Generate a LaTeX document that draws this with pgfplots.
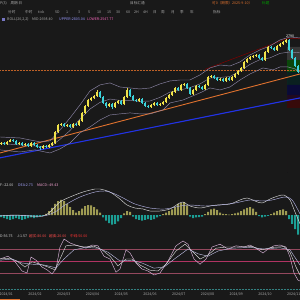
\documentclass[border=0pt]{standalone}
\usepackage{pgfplots}
\usepackage{pgfplotstable}
\pgfplotsset{compat=1.18}
\usepackage{fontspec}
\setmainfont{Noto Sans CJK SC}
\definecolor{bg}{HTML}{191919}
\definecolor{upc}{HTML}{F0E24A}
\definecolor{dnc}{HTML}{3CD2DA}
\definecolor{boll}{HTML}{8C85A6}
\definecolor{ortl}{HTML}{E0722E}
\definecolor{bltl}{HTML}{2233E6}
\definecolor{posh}{HTML}{9E9A52}
\definecolor{negh}{HTML}{1B9E94}
\definecolor{kdjl}{HTML}{94485E}
\definecolor{kdjm}{HTML}{B03362}
\definecolor{txtg}{HTML}{A8A8A8}
\newcommand{\tf}{\fontsize{3.6}{4.5}\selectfont}

\pgfplotstableread{
x o c h l
1 2047 2055 2062 2040
7 2047 2062 2068 2042
10 2062 2076 2083 2058
19 2047 2055 2061 2041
25 2040 2047 2053 2034
31 2033 2055 2060 2028
43 2019 2033 2040 2012
49 2026 2040 2046 2020
52 2040 2055 2062 2035
55 2055 2133 2140 2050
58 2133 2183 2190 2128
61 2183 2190 2200 2176
67 2176 2183 2192 2170
73 2169 2190 2197 2163
79 2183 2212 2220 2178
82 2212 2269 2275 2206
85 2269 2319 2326 2262
88 2319 2362 2368 2312
91 2362 2376 2384 2352
94 2376 2390 2398 2368
97 2390 2419 2432 2384
109 2319 2333 2342 2310
115 2312 2340 2348 2305
118 2340 2355 2362 2334
124 2333 2383 2390 2328
127 2383 2433 2445 2376
139 2355 2369 2377 2348
151 2312 2326 2333 2305
154 2326 2340 2347 2319
160 2326 2333 2340 2319
163 2333 2347 2354 2327
166 2347 2376 2383 2340
169 2376 2397 2404 2369
172 2397 2419 2426 2390
175 2419 2447 2455 2412
181 2433 2469 2476 2426
184 2469 2476 2484 2462
193 2404 2433 2440 2397
196 2433 2462 2469 2426
205 2440 2469 2476 2433
208 2469 2526 2533 2462
211 2526 2533 2541 2519
220 2504 2512 2519 2497
226 2497 2519 2526 2490
232 2504 2526 2533 2497
235 2526 2547 2554 2519
238 2547 2569 2576 2540
241 2569 2590 2598 2562
244 2590 2633 2640 2583
247 2633 2654 2662 2626
250 2654 2669 2676 2647
253 2669 2676 2684 2661
256 2676 2683 2690 2669
265 2647 2704 2712 2640
268 2704 2740 2748 2697
277 2719 2747 2754 2712
280 2747 2761 2768 2740
283 2761 2776 2783 2754
286 2776 2790 2797 2769
}\upT

\pgfplotstableread{
x o c h l
4 2055 2047 2062 2040
13 2076 2069 2083 2062
16 2069 2047 2076 2040
22 2055 2040 2062 2033
28 2047 2033 2054 2026
34 2055 2040 2062 2033
37 2040 2026 2047 2019
40 2026 2019 2033 2005
46 2033 2026 2040 2019
64 2190 2176 2197 2169
70 2183 2169 2190 2162
76 2190 2183 2198 2176
100 2419 2383 2426 2376
103 2383 2340 2390 2333
106 2340 2319 2347 2304
112 2333 2312 2340 2300
121 2355 2333 2362 2326
130 2433 2390 2440 2383
133 2390 2362 2397 2355
136 2362 2355 2369 2347
142 2369 2340 2376 2333
145 2340 2319 2347 2312
148 2319 2312 2326 2305
157 2340 2326 2347 2319
178 2447 2433 2455 2426
187 2476 2447 2483 2440
190 2447 2404 2454 2397
199 2462 2454 2469 2447
202 2454 2440 2461 2433
214 2533 2519 2540 2512
217 2519 2504 2526 2497
223 2512 2497 2519 2490
229 2519 2504 2526 2497
259 2683 2662 2690 2655
262 2662 2647 2669 2640
271 2740 2733 2748 2726
274 2733 2719 2740 2712
289 2790 2719 2797 2712
292 2719 2662 2726 2655
295 2662 2604 2669 2597
298 2604 2562 2612 2554
}\dnT

\begin{document}
\begin{tikzpicture}
\fill[bg] (0pt,0pt) rectangle (300pt,-300pt);

% ---------- toolbar ----------
\node[anchor=west,inner sep=0,font=\tf,text=txtg] at (0pt,-3pt) {P(3)\quad 周期:日};
\node[anchor=west,inner sep=0,font=\tf,text=ortl] at (212pt,-3pt) {可0（期限）2025-9-10）};
\node[anchor=west,inner sep=0,font=\tf,text=green!60!black] at (262pt,-3pt) {标题};
\node[anchor=west,inner sep=0,font=\tf,text=txtg] at (130pt,-3pt) {目标汇通};
\foreach \t/\xx in {分时/8,中时/25,tick/38,5D/55,1/66,3/78,5/88,10/97,15/107,30/116,60/126,2H/134,4H/143,日/153,周/161,月/171,季/180,年/190,指标/213}
  \node[anchor=west,inner sep=0,font=\tf,text=txtg] at (\xx pt,-12pt) {\t};

% ---------- BOLL header ----------
\fill[txtg!70!blue] (2pt,-17.5pt) rectangle (5pt,-20.5pt);
\node[anchor=west,inner sep=0,font=\tf,text=txtg] at (7pt,-19pt) {BOLL(20,2,2)};
\node[anchor=west,inner sep=0,font=\tf,text=txtg] at (32pt,-19pt) {MID:2698.40};
\node[anchor=west,inner sep=0,font=\tf,text=blue!40!white] at (59pt,-19pt) {UPPER:2803.04};
\node[anchor=west,inner sep=0,font=\tf,text=magenta!60!white] at (87pt,-19pt) {LOWER:2547.77};

% ---------- main price axis ----------
\begin{axis}[at={(0pt,-22pt)},anchor=north west,scale only axis,width=300pt,height=150pt,
  xmin=0,xmax=300,ymin=1847,ymax=2918,axis lines=none,clip=true]
\addplot[fill=gray!60!black,fill opacity=0.6,draw=none] coordinates {(287,2740) (300,2740) (300,2647) (287,2647)} \closedcycle;
\addplot[fill=green!40!black,fill opacity=0.6,draw=none] coordinates {(287,2647) (300,2647) (300,2561) (287,2561)} \closedcycle;
\addplot[fill=teal!30!black,fill opacity=0.6,draw=none] coordinates {(287,2561) (300,2561) (300,2469) (287,2469)} \closedcycle;
\addplot[fill=blue!30!black,fill opacity=0.6,draw=none] coordinates {(287,2469) (300,2469) (300,2397) (287,2397)} \closedcycle;
\addplot[fill=violet!30!black,fill opacity=0.6,draw=none] coordinates {(287,2397) (300,2397) (300,2361) (287,2361)} \closedcycle;
\addplot[fill=red!30!black,fill opacity=0.6,draw=none] coordinates {(287,2361) (300,2361) (300,2304) (287,2304)} \closedcycle;
\addplot[ortl!85!black,densely dotted,line width=0.5pt] coordinates {(0,2572) (300,2572)};
\addplot[bltl,line width=1.1pt] coordinates {(0,1948) (300,2376)};
\addplot[ortl,line width=0.9pt] coordinates {(0,1983) (300,2547)};
\addplot[red!50!black,line width=0.5pt] coordinates {(205,2580) (287,2800) (300,2800)};
\addplot[boll,line width=0.45pt] coordinates {(0,2097) (20,2090) (40,2062) (50,2069) (60,2147) (70,2233) (80,2326) (90,2426) (100,2469) (110,2483) (120,2454) (130,2447) (140,2440) (150,2447) (160,2476) (170,2497) (180,2504) (190,2504) (200,2540) (210,2590) (220,2611) (230,2604) (240,2633) (250,2683) (260,2719) (270,2747) (280,2790) (290,2811) (300,2804)};
\addplot[boll!85!gray,line width=0.45pt] coordinates {(0,2051) (20,2040) (40,2030) (50,2026) (60,2080) (70,2143) (80,2226) (90,2297) (100,2344) (110,2368) (120,2358) (130,2358) (140,2351) (150,2354) (160,2380) (170,2418) (180,2432) (190,2450) (200,2476) (210,2518) (220,2522) (230,2529) (240,2568) (250,2615) (260,2650) (270,2662) (280,2694) (290,2704) (300,2698)};
\addplot[boll,line width=0.45pt] coordinates {(0,2005) (20,1990) (35,2005) (45,1990) (50,1983) (60,2012) (70,2054) (80,2126) (90,2169) (100,2219) (110,2254) (120,2262) (130,2269) (140,2262) (150,2262) (163,2290) (170,2340) (183,2361) (200,2412) (210,2447) (220,2433) (230,2454) (240,2504) (250,2547) (263,2590) (273,2576) (280,2597) (288,2597) (295,2583) (300,2561)};
\addplot[draw=none,error bars/.cd,y dir=plus,y explicit,error mark=none,error bar style={draw=upc,line width=0.4pt}]
  table[x=x,y=l,y error plus expr=\thisrow{h}-\thisrow{l}] {\upT};
\addplot[draw=none,error bars/.cd,y dir=plus,y explicit,error mark=none,error bar style={draw=upc,line width=1.5pt}]
  table[x=x,y=o,y error plus expr=\thisrow{c}-\thisrow{o}] {\upT};
\addplot[draw=none,error bars/.cd,y dir=plus,y explicit,error mark=none,error bar style={draw=dnc,line width=0.4pt}]
  table[x=x,y=l,y error plus expr=\thisrow{h}-\thisrow{l}] {\dnT};
\addplot[draw=none,error bars/.cd,y dir=plus,y explicit,error mark=none,error bar style={draw=dnc,line width=1.5pt}]
  table[x=x,y=c,y error plus expr=\thisrow{o}-\thisrow{c}] {\dnT};
\node[anchor=west,inner sep=0,font=\tf,text=white] at (axis cs:286,2820) {2790};
\end{axis}

% ---------- MACD ----------
\node[anchor=west,inner sep=0,font=\tf,text=white!85!black] at (0pt,-185pt) {F:-22.00};
\node[anchor=west,inner sep=0,font=\tf,text=blue!35!white] at (18pt,-185pt) {DEA:2.73};
\node[anchor=west,inner sep=0,font=\tf,text=magenta!35!white] at (37pt,-185pt) {MACD:-49.43};
\begin{axis}[at={(0pt,-178pt)},anchor=north west,scale only axis,width=300pt,height=58pt,
  xmin=0,xmax=300,ymin=-52.5,ymax=92.5,axis lines=none,clip=true]
\addplot[ybar,bar width=2pt,bar shift=0pt,fill=posh,draw=none] coordinates {(46,3) (49,10) (52,18) (55,28) (58,35) (61,38) (64,35) (67,28) (70,20) (73,12) (76,6) (79,10) (82,16) (85,22) (88,25) (91,24) (94,20) (97,14) (100,6) (124,4) (127,10) (130,8) (163,2) (166,6) (169,10) (172,14) (175,20) (178,28) (181,30) (184,32) (187,24) (205,2) (208,8) (211,14) (214,16) (217,12) (220,6) (223,3) (226,2) (229,1) (232,2) (235,4) (238,6) (241,10) (244,14) (247,18) (250,20) (253,16) (256,8) (271,2) (274,6) (277,10) (280,12) (283,14) (286,10)};
\addplot[ybar,bar width=2pt,bar shift=0pt,fill=negh,draw=none] coordinates {(1,-5) (4,-8) (7,-10) (10,-12) (13,-10) (16,-8) (19,-10) (22,-12) (25,-10) (28,-8) (31,-6) (34,-8) (37,-6) (40,-4) (43,-2) (103,-6) (106,-14) (109,-20) (112,-24) (115,-22) (118,-16) (121,-8) (133,-4) (136,-10) (139,-12) (142,-14) (145,-12) (148,-10) (151,-12) (154,-10) (157,-6) (160,-3) (190,-4) (193,-8) (196,-6) (199,-5) (202,-4) (259,-3) (262,-6) (265,-4) (268,-2) (289,-10) (292,-22) (295,-35) (298,-49)};
\addplot[white!85!black,line width=0.45pt,smooth] coordinates {(0,-2.5) (15,0) (30,-2.5) (43,-2.5) (50,7.5) (60,32.5) (70,45) (83,57.5) (95,65) (100,65) (110,57.5) (120,40) (127,25) (135,17.5) (143,15) (150,10) (160,10) (170,15) (178,27.5) (183,32.5) (190,22.5) (200,17.5) (210,22.5) (217,25) (230,27.5) (240,37.5) (247,42.5) (255,35) (262,30) (270,40) (278,47.5) (284,50) (290,37.5) (295,7.5) (300,-22)};
\addplot[blue!25!white!75!gray,line width=0.45pt,smooth] coordinates {(0,-1.25) (20,-1.25) (43,-2.5) (55,7.5) (65,25) (80,45) (95,57.5) (105,60) (115,52.5) (125,40) (135,27.5) (150,17.5) (165,15) (180,22.5) (190,25) (205,22.5) (220,25) (235,30) (250,37.5) (262,35) (272,37.5) (285,45) (292,38) (300,3)};
\end{axis}

% ---------- KDJ ----------
\node[anchor=west,inner sep=0,font=\tf,text=white!85!black] at (0pt,-236pt) {D:56.75};
\node[anchor=west,inner sep=0,font=\tf,text=white!85!black] at (17pt,-236pt) {J:1.57};
\node[anchor=west,inner sep=0,font=\tf,text=red!70!white] at (29pt,-236pt) {超买:80.00};
\node[anchor=west,inner sep=0,font=\tf,text=red!70!white] at (49pt,-236pt) {超卖:20.00};
\node[anchor=west,inner sep=0,font=\tf,text=red!80!white] at (70pt,-236pt) {中线:50.00};
\begin{axis}[at={(0pt,-238pt)},anchor=north west,scale only axis,width=300pt,height=51pt,
  xmin=0,xmax=300,ymin=-20,ymax=107.5,clip=true,
  axis y line=none,axis x line*=bottom,
  x axis line style={draw=teal!60!gray,densely dotted,line width=0.5pt},
  major tick length=0pt,
  xtick={6.25,35,63.75,92.5,121.25,150,178.75,207.5,236.25,265,293.75},
  xticklabels={2024/01,2024/02,2024/03,2024/04,2024/05,2024/06,2024/07,2024/08,2024/09,2024/10,2024/11},
  xticklabel style={font=\tf,text=txtg,inner sep=0pt,yshift=-3.5pt}]
\addplot[kdjl,line width=0.55pt] coordinates {(0,80) (300,80)};
\addplot[kdjm,line width=0.55pt] coordinates {(0,50) (300,50)};
\addplot[kdjl,line width=0.55pt] coordinates {(0,20) (300,20)};
\addplot[violet!30!white,line width=0.45pt] coordinates {(0,55) (8,62) (15,48) (22,25) (27,20) (31,60) (36,52) (42,35) (47,28) (52,18) (56,30) (60,85) (64,105) (70,95) (78,88) (86,82) (92,90) (98,88) (104,62) (110,55) (116,22) (120,30) (126,78) (130,70) (136,45) (142,30) (148,25) (154,15) (160,20) (168,50) (176,88) (183,100) (188,92) (194,55) (200,42) (206,55) (212,85) (220,92) (228,80) (236,88) (244,85) (250,90) (256,82) (263,70) (268,80) (274,88) (280,90) (286,85) (290,60) (294,20) (298,2) (300,0)};
\addplot[white!85!black,line width=0.45pt] coordinates {(0,55) (10,57) (18,48) (25,35) (32,48) (40,42) (48,35) (55,28) (60,55) (66,88) (74,90) (84,85) (94,87) (102,78) (110,62) (118,38) (126,55) (132,55) (140,40) (150,27) (158,25) (166,42) (176,75) (185,92) (192,75) (200,55) (208,65) (216,82) (226,85) (240,85) (252,86) (262,78) (272,84) (284,86) (290,72) (296,35) (300,15)};
\addplot[blue!20!white!70!gray,line width=0.45pt] coordinates {(0,52) (12,55) (22,45) (32,42) (44,40) (56,33) (64,55) (74,78) (86,84) (98,82) (108,72) (120,50) (132,52) (142,45) (154,32) (164,35) (176,58) (188,80) (198,68) (208,62) (218,75) (232,82) (250,84) (264,80) (280,83) (290,78) (296,55) (300,40)};
\end{axis}
\fill[ortl] (0pt,-298.5pt) rectangle (20pt,-300pt);
\pgfresetboundingbox
\useasboundingbox (0pt,0pt) rectangle (300pt,-300pt);
\end{tikzpicture}
\end{document}
